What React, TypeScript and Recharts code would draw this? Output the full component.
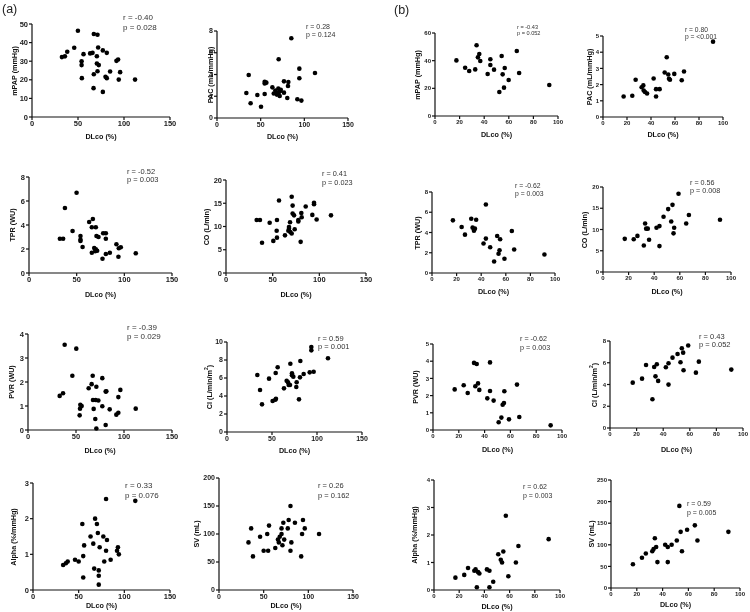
import React from 'react';
import { ScatterChart, Scatter, XAxis, YAxis } from 'recharts';

type Pt = [number, number];

// x = DLco (%), y = haemodynamic variable
const aMpap: Pt[] = [[49.9, 46.4], [67.2, 44.6], [71.2, 44.2], [71.9, 37.4], [45.9, 37.2], [77.0, 35.8], [38.3, 35.1], [81.3, 34.5], [63.2, 34.2], [65.8, 34.5], [56.0, 33.8], [32.5, 32.2], [35.8, 32.6], [70.5, 32.7], [53.9, 30.0], [70.5, 28.8], [72.6, 27.9], [53.9, 27.9], [91.8, 30.2], [93.6, 30.9], [84.9, 24.5], [95.8, 24.1], [71.2, 24.6], [67.2, 23.0], [79.9, 21.6], [81.3, 20.9], [54.2, 20.9], [94.3, 20.1], [112.0, 20.1], [66.9, 15.5], [77.0, 13.5]];
const aPac: Pt[] = [[85.1, 7.33], [70.6, 5.4], [94.3, 4.54], [112.2, 4.14], [36.3, 3.96], [94.3, 3.65], [54.6, 3.34], [56.5, 3.25], [54.6, 3.17], [76.7, 3.37], [81.7, 3.31], [81.3, 2.94], [63.4, 2.82], [66.8, 2.52], [70.2, 2.7], [72.5, 2.48], [67.9, 2.3], [70.6, 2.3], [76.7, 2.33], [71.8, 2.02], [68.5, 2.15], [33.6, 2.3], [46.2, 2.12], [54.6, 2.21], [80.5, 1.84], [92, 1.72], [96.6, 1.6], [38.5, 1.35], [50.4, 1.04], [65, 2.25], [73, 2.6]];
const bMpap: Pt[] = [[17.4, 40.2], [24.5, 34.9], [27.8, 32.5], [32.7, 33.7], [33.8, 51.1], [34.9, 42.4], [36.0, 44.8], [36.8, 39.8], [42.8, 30.4], [45.0, 41.0], [45.0, 36.9], [48.0, 33.5], [52.3, 17.3], [54.2, 43.4], [55.0, 30.1], [56.7, 34.7], [56.1, 20.5], [59.9, 26.0], [66.5, 47.0], [68.4, 31.1], [92.9, 22.4]];
const bPac: Pt[] = [[17.2, 1.27], [24.4, 1.31], [27.2, 2.3], [32.2, 1.84], [33.6, 1.95], [33.9, 1.64], [35, 1.54], [36.7, 1.45], [42.2, 2.38], [44.2, 1.72], [44.2, 1.27], [47.2, 1.72], [51.4, 2.75], [53.1, 3.69], [54.4, 2.62], [55, 2.36], [55.8, 2.3], [59.4, 2.66], [65.6, 2.27], [67.5, 2.81], [91.7, 4.65]];
const aTpr: Pt[] = [[49.9, 6.69], [37.7, 5.42], [67, 4.5], [63.1, 4.25], [45.7, 3.5], [65.9, 3.81], [70.1, 3.81], [77.8, 3.31], [80.6, 3.31], [70.8, 3.08], [72.9, 3.0], [54, 3.08], [54, 2.78], [54, 2.67], [80.6, 2.86], [32.4, 2.86], [35.8, 2.86], [56.2, 2.17], [91.7, 2.39], [96.3, 2.14], [94.2, 2.06], [68.4, 2.08], [70.1, 1.97], [71.5, 1.86], [65.9, 1.69], [69.4, 1.81], [84.8, 1.69], [80.6, 1.58], [112, 1.64], [93.8, 1.36], [77.1, 1.19]];
const aCo: Pt[] = [[70.4, 16.4], [56.8, 15.6], [71.4, 14.5], [94.3, 15.1], [94.3, 14.8], [85.4, 14.3], [71.4, 12.8], [72.9, 12.4], [80.7, 12.9], [92.5, 12.5], [112.5, 12.4], [81.1, 12.0], [77.5, 11.4], [77.5, 11.1], [97.1, 11.5], [32.9, 11.4], [36.4, 11.4], [54.6, 11.4], [68.6, 10.9], [46.8, 10.8], [67.5, 9.9], [67.5, 9.5], [73.6, 9.4], [54.3, 9.1], [66.8, 9.1], [68.9, 8.8], [70.4, 8.5], [63.2, 8.1], [54.6, 7.6], [50.7, 6.9], [38.6, 6.5], [80, 6.7]];
const bTpr: Pt[] = [[17, 5.2], [24.1, 4.54], [26.8, 3.79], [31.9, 5.36], [33, 4.48], [34.9, 4.38], [34.1, 4.18], [35.9, 5.26], [43.8, 6.76], [43.8, 3.4], [41.9, 2.91], [47.3, 2.55], [50.5, 1.14], [53, 3.66], [54.1, 1.9], [55.4, 3.33], [54.9, 2.25], [58.9, 1.41], [64.9, 4.15], [66.8, 2.32], [91.4, 1.83]];
const bCo: Pt[] = [[17, 7.8], [24, 7.7], [26.9, 8.5], [31.9, 6.25], [32.9, 11.4], [33.7, 10.2], [35, 10.2], [36, 7.6], [41.8, 10.4], [44.1, 10.8], [44.1, 6.1], [47.3, 13.0], [50.9, 14.8], [53.3, 11.9], [54.3, 15.8], [55.1, 9.1], [55.6, 10.4], [59, 18.4], [65, 11.4], [67.1, 13.4], [91.4, 12.3]];
const aPvr: Pt[] = [[38.2, 3.55], [50.3, 3.39], [46.2, 2.26], [33, 1.42], [36.5, 1.53], [67.4, 2.26], [77.4, 2.16], [66.3, 1.91], [63.2, 1.74], [71.2, 1.8], [80.9, 1.6], [81.6, 1.61], [96.2, 1.67], [94.1, 1.37], [67.7, 1.25], [70.5, 1.25], [73.3, 1.23], [77.4, 0.99], [54.5, 1.05], [55.9, 1.0], [54.2, 0.89], [53.8, 0.61], [68.4, 0.88], [85.1, 0.86], [94.1, 0.72], [92.0, 0.64], [112.2, 0.89], [70.1, 0.46], [80.9, 0.21], [71.2, 0.06]];
const aCi: Pt[] = [[93.7, 9.44], [93.7, 9.07], [112.2, 8.19], [81.5, 7.89], [70.4, 7.59], [56.3, 7.19], [54.1, 6.56], [91.9, 6.63], [96.3, 6.7], [33.7, 6.33], [46.7, 5.93], [85.2, 6.44], [72.2, 6.52], [72.2, 6.3], [73.7, 6.15], [81.1, 6.07], [66.3, 5.7], [67.8, 5.52], [70, 5.22], [68.5, 5.22], [77.4, 5.52], [77, 5.0], [63.3, 4.85], [36.7, 4.67], [54.4, 3.7], [53.7, 3.59], [50.7, 3.44], [80, 3.63], [38.9, 3.07]];
const bPvr: Pt[] = [[16.8, 2.36], [23.8, 2.6], [26.9, 2.15], [31.8, 3.9], [33.9, 3.84], [32.8, 2.54], [34.9, 2.71], [35.9, 2.33], [42.1, 1.84], [44.2, 3.93], [44.2, 2.27], [47.0, 1.71], [50.9, 0.45], [53, 0.72], [54, 1.47], [55, 1.57], [55.3, 2.25], [58.9, 0.62], [65.1, 2.64], [66.9, 0.76], [91.2, 0.27]];
const bCi: Pt[] = [[17.1, 4.17], [24.1, 4.54], [27.1, 5.8], [31.9, 2.64], [33.2, 5.61], [34.2, 4.75], [35.2, 5.86], [36.2, 4.33], [42, 5.58], [44, 5.95], [44, 3.99], [47, 6.47], [50.8, 6.81], [53, 6.04], [54, 7.33], [55, 6.93], [55.3, 5.31], [58.8, 7.58], [64.6, 5.09], [66.8, 6.1], [91.2, 5.37]];
const aAlpha: Pt[] = [[33, 0.7], [36, 0.75], [38, 0.8], [46, 0.85], [50, 0.8], [54, 1.85], [55, 0.95], [55, 0.35], [56, 1.25], [63, 1.5], [66, 1.3], [67, 0.6], [68, 2.0], [70, 1.85], [71, 1.6], [72, 0.4], [72, 0.55], [72, 0.15], [73, 1.2], [77, 1.5], [78, 0.8], [80, 2.55], [80, 1.1], [81, 1.4], [85, 0.85], [92, 1.1], [93, 1.2], [94, 1.0], [112, 2.5]];
const aSv: Pt[] = [[33, 85], [36, 110], [38, 60], [46, 95], [50, 70], [54, 100], [55, 70], [56, 115], [63, 75], [66, 90], [67, 85], [68, 95], [70, 110], [70, 100], [71, 80], [72, 120], [73, 90], [77, 110], [78, 125], [80, 70], [81, 85], [85, 120], [92, 60], [93, 100], [94, 125], [96, 110], [112, 100], [80, 150]];
const bAlpha: Pt[] = [[17, 0.45], [24, 0.55], [27, 0.8], [32, 0.7], [33, 0.75], [34, 0.1], [35, 0.65], [36, 0.6], [42, 0.75], [44, 0.7], [44, 0.1], [47, 0.3], [51, 1.3], [53, 1.1], [54, 1.0], [55, 1.4], [57, 2.7], [59, 0.5], [65, 1.0], [67, 1.6], [91, 1.85]];
const bSv: Pt[] = [[17, 55], [24, 70], [27, 80], [32, 85], [33, 90], [34, 115], [35, 95], [36, 60], [42, 100], [44, 60], [44, 95], [47, 100], [51, 110], [53, 190], [54, 130], [55, 85], [59, 135], [65, 145], [67, 110], [91, 130]];

const dlcoTicksA = [0, 50, 100, 150];
const dlcoTicksB = [0, 20, 40, 60, 80, 100];

const FONT = '"Liberation Sans", Arial, Helvetica, sans-serif';

interface PlotCfg {
  data: Pt[];
  xTicks: number[];
  yTicks: number[];
  box: [number, number, number, number]; // x0, x1, y0, y1 of the axes
  yTitle: React.ReactNode;
  yTitleX: number;
  xTitleY: number;
  r: string;
  p: string;
  stat: [number, number, number, number]; // x, r centre y, p centre y, font size
  tickFs: number;
}

const plots: PlotCfg[] = [
  { data: aMpap, xTicks: dlcoTicksA, yTicks: [0, 10, 20, 30, 40, 50], box: [32, 170, 24, 117], yTitle: 'mPAP (mmHg)', yTitleX: 15, xTitleY: 137, r: 'r = -0.40', p: 'p = 0.028', stat: [123, 18.3, 28.3, 8], tickFs: 7.5 },
  { data: aPac, xTicks: dlcoTicksA, yTicks: [0, 2, 4, 6, 8], box: [217, 348, 31, 118], yTitle: 'PAC (mL/mmHg)', yTitleX: 211, xTitleY: 137, r: 'r = 0.28', p: 'p = 0.124', stat: [306, 26, 34.3, 7], tickFs: 7 },
  { data: bMpap, xTicks: dlcoTicksB, yTicks: [0, 20, 40, 60], box: [435, 558, 33, 116], yTitle: 'mPAP (mmHg)', yTitleX: 418, xTitleY: 135, r: 'r = -0.43', p: 'p = 0.052', stat: [517, 27.7, 33.3, 5.6], tickFs: 6 },
  { data: bPac, xTicks: dlcoTicksB, yTicks: [0, 1, 2, 3, 4, 5], box: [603, 723, 36, 117], yTitle: 'PAC (mL/mmHg)', yTitleX: 590, xTitleY: 135, r: 'r = 0.80', p: 'p = <0.001', stat: [685, 30, 37.7, 6.7], tickFs: 6 },
  { data: aTpr, xTicks: dlcoTicksA, yTicks: [0, 2, 4, 6, 8], box: [29, 172, 177, 273], yTitle: 'TPR (WU)', yTitleX: 12.5, xTitleY: 295, r: 'r = -0.52', p: 'p = 0.003', stat: [127, 171.7, 180, 7.5], tickFs: 7.5 },
  { data: aCo, xTicks: dlcoTicksA, yTicks: [0, 5, 10, 15, 20], box: [226, 366, 180, 273], yTitle: 'CO (L/min)', yTitleX: 207, xTitleY: 295, r: 'r = 0.41', p: 'p = 0.023', stat: [322, 174, 182.7, 7.3], tickFs: 7.5 },
  { data: bTpr, xTicks: dlcoTicksB, yTicks: [0, 2, 4, 6, 8], box: [432, 555, 192, 273], yTitle: 'TPR (WU)', yTitleX: 418, xTitleY: 292, r: 'r = -0.62', p: 'p = 0.003', stat: [515, 186, 194, 6.8], tickFs: 6 },
  { data: bCo, xTicks: dlcoTicksB, yTicks: [0, 5, 10, 15, 20], box: [603, 731, 187, 272], yTitle: 'CO (L/min)', yTitleX: 585, xTitleY: 292, r: 'r = 0.56', p: 'p = 0.008', stat: [690, 182.3, 190.7, 7.2], tickFs: 6 },
  { data: aPvr, xTicks: dlcoTicksA, yTicks: [0, 1, 2, 3, 4], box: [28, 172, 334, 430], yTitle: 'PVR (WU)', yTitleX: 12, xTitleY: 451, r: 'r = -0.39', p: 'p = 0.029', stat: [127, 328.3, 337.3, 8], tickFs: 7.5 },
  { data: aCi, xTicks: dlcoTicksA, yTicks: [0, 2, 4, 6, 8, 10], box: [227, 362, 342, 432], yTitle: <>CI (L/min/m<sup style={{ fontSize: '0.7em' }}>2</sup>)</>, yTitleX: 208, xTitleY: 451, r: 'r = 0.59', p: 'p = 0.001', stat: [318, 338.3, 346.7, 7.5], tickFs: 7 },
  { data: bPvr, xTicks: dlcoTicksB, yTicks: [0, 1, 2, 3, 4, 5], box: [433, 562, 344, 430], yTitle: 'PVR (WU)', yTitleX: 416, xTitleY: 450, r: 'r = -0.62', p: 'p = 0.003', stat: [520, 339, 347.3, 7.2], tickFs: 6 },
  { data: bCi, xTicks: dlcoTicksB, yTicks: [0, 2, 4, 6, 8], box: [610, 743, 341, 428], yTitle: <>CI (L/min/m<sup style={{ fontSize: '0.7em' }}>2</sup>)</>, yTitleX: 593, xTitleY: 450, r: 'r = 0.43', p: 'p = 0.052', stat: [699, 336.7, 345, 7.5], tickFs: 6 },
  { data: aAlpha, xTicks: dlcoTicksA, yTicks: [0, 1, 2, 3], box: [33, 170, 483, 590], yTitle: 'Alpha (%/mmHg)', yTitleX: 14, xTitleY: 606, r: 'r = 0.33', p: 'p = 0.076', stat: [125, 486, 496, 8], tickFs: 7.5 },
  { data: aSv, xTicks: dlcoTicksA, yTicks: [0, 50, 100, 150, 200], box: [219, 353, 478, 590], yTitle: 'SV (mL)', yTitleX: 197, xTitleY: 606, r: 'r = 0.26', p: 'p = 0.162', stat: [318, 486, 496, 7.5], tickFs: 7 },
  { data: bAlpha, xTicks: dlcoTicksB, yTicks: [0, 1, 2, 3, 4], box: [434, 560, 480, 590], yTitle: 'Alpha (%/mmHg)', yTitleX: 415, xTitleY: 606.5, r: 'r = 0.62', p: 'p = 0.003', stat: [523, 486, 495, 7], tickFs: 6 },
  { data: bSv, xTicks: dlcoTicksB, yTicks: [0, 50, 100, 150, 200, 250], box: [611, 740, 480, 588], yTitle: 'SV (mL)', yTitleX: 592, xTitleY: 605, r: 'r = 0.59', p: 'p = 0.005', stat: [687, 503, 512, 7], tickFs: 6 },
];

const PL = 28;
const PT = 6;
const PR = 10;
const PB = 16;

function Plot({ cfg }: { cfg: PlotCfg }) {
  const [x0, x1, y0, y1] = cfg.box;
  const w = x1 - x0 + PL + PR;
  const h = y1 - y0 + PT + PB;
  const pts = cfg.data.map(([x, y]) => ({ x, y }));
  const tick = { fontSize: cfg.tickFs, fontWeight: 700, fill: '#1a1a1a', fontFamily: FONT };
  const line = { stroke: '#111', strokeWidth: 1.2 };
  const [sx, ry, py, fs] = cfg.stat;
  const statStyle: React.CSSProperties = {
    position: 'absolute', left: sx, fontSize: fs, lineHeight: `${fs}px`, color: '#333',
    fontFamily: FONT, whiteSpace: 'nowrap',
  };
  return (
    <>
      <div style={{ position: 'absolute', left: x0 - PL, top: y0 - PT }}>
        <ScatterChart width={w} height={h} margin={{ top: PT, right: PR, left: 0, bottom: 0 }}>
          <XAxis
            type="number"
            dataKey="x"
            domain={[cfg.xTicks[0], cfg.xTicks[cfg.xTicks.length - 1]]}
            ticks={cfg.xTicks}
            interval={0}
            height={PB}
            tickSize={3}
            tickMargin={1}
            tick={tick}
            axisLine={line}
            tickLine={line}
          />
          <YAxis
            type="number"
            dataKey="y"
            domain={[cfg.yTicks[0], cfg.yTicks[cfg.yTicks.length - 1]]}
            ticks={cfg.yTicks}
            interval={0}
            width={PL}
            tickSize={3}
            tickMargin={1}
            tick={tick}
            axisLine={line}
            tickLine={line}
          />
          <Scatter
            data={pts}
            isAnimationActive={false}
            shape={(s: any) => <circle cx={s.cx} cy={s.cy} r={2.3} fill="#000" />}
          />
        </ScatterChart>
      </div>
      <div
        style={{
          position: 'absolute', left: cfg.yTitleX, top: (y0 + y1) / 2,
          transform: 'translate(-50%, -50%) rotate(-90deg)', fontSize: 7.2, fontWeight: 700,
          fontFamily: FONT, whiteSpace: 'nowrap', color: '#111', lineHeight: '8px',
        }}
      >
        {cfg.yTitle}
      </div>
      <div
        style={{
          position: 'absolute', left: (x0 + x1) / 2, top: cfg.xTitleY,
          transform: 'translate(-50%, -50%)', fontSize: 7.2, fontWeight: 700,
          fontFamily: FONT, whiteSpace: 'nowrap', color: '#111', lineHeight: '8px',
        }}
      >
        DLco (%)
      </div>
      <div style={{ ...statStyle, top: ry - fs / 2 }}>{cfg.r}</div>
      <div style={{ ...statStyle, top: py - fs / 2 }}>{cfg.p}</div>
    </>
  );
}

export default function App() {
  return (
    <div
      style={{
        position: 'absolute', left: 0, top: 0, width: 750, height: 612, background: '#fff',
        overflow: 'hidden', willChange: 'transform',
      }}
    >
      <div style={{ position: 'absolute', left: 2, top: 2, fontSize: 12.5, fontFamily: FONT, color: '#222' }}>(a)</div>
      <div style={{ position: 'absolute', left: 394, top: 3, fontSize: 12.5, fontFamily: FONT, color: '#222' }}>(b)</div>
      {plots.map((cfg, i) => (
        <Plot key={i} cfg={cfg} />
      ))}
    </div>
  );
}
